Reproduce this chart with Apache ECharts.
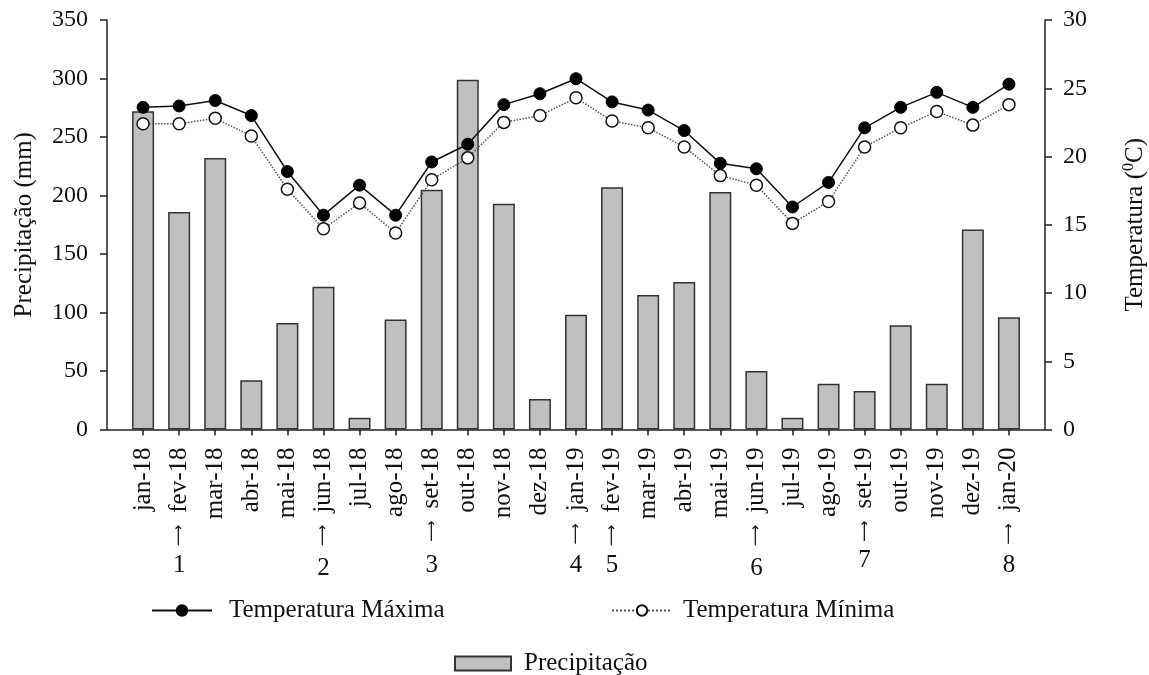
<!DOCTYPE html>
<html><head><meta charset="utf-8">
<script src="https://cdn.jsdelivr.net/npm/echarts@6/dist/echarts.min.js"></script>
<style>html,body{margin:0;padding:0;background:#fff}#c{width:1149px;height:675px}</style>
</head><body><div id="c"></div>
<script>
const categories = ['jan-18','fev-18','mar-18','abr-18','mai-18','jun-18','jul-18','ago-18','set-18','out-18','nov-18','dez-18',
  'jan-19','fev-19','mar-19','abr-19','mai-19','jun-19','jul-19','ago-19','set-19','out-19','nov-19','dez-19','jan-20'];
const precipitation = [272, 186, 232, 42, 91, 122, 10, 94, 205, 299, 193, 26,
  98, 207, 115, 126, 203, 50, 10, 39, 33, 89, 39, 171, 96];
const tempMax = [23.6, 23.7, 24.1, 23.0, 18.9, 15.7, 17.9, 15.7, 19.6, 20.9, 23.8, 24.6,
  25.7, 24.0, 23.4, 21.9, 19.5, 19.1, 16.3, 18.1, 22.1, 23.6, 24.7, 23.6, 25.3];
const tempMin = [22.4, 22.4, 22.8, 21.5, 17.6, 14.7, 16.6, 14.4, 18.3, 19.9, 22.5, 23.0,
  24.3, 22.6, 22.1, 20.7, 18.6, 17.9, 15.1, 16.7, 20.7, 22.1, 23.3, 22.3, 23.8];
const sampleMonths = ['fev-18','jun-18','set-18','jan-19','fev-19','jun-19','set-19','jan-20'];
const precipTicks = {min: 0, max: 350, interval: 50};
const tempTicks = {min: 0, max: 30, interval: 5};

const FONT = '"Liberation Serif", "Times New Roman", serif';
const axisData = [' '].concat(categories).concat(['  ']);
const pad = arr => [null].concat(arr).concat([null]);
const isEnd = i => i === 0 || i === axisData.length - 1;

const chart = echarts.init(document.getElementById('c'), null, {renderer: 'canvas'});
chart.setOption({
  backgroundColor: '#ffffff',
  animation: false,
  textStyle: {fontFamily: FONT, color: '#111'},
  grid: {left: 107, right: 104, top: 20, bottom: 675 - 429.5, containLabel: false, outerBoundsMode: 'none'},
  legend: [
    {data: ['Temperatura Máxima'], left: 146, top: 593, itemWidth: 60, itemHeight: 13,
     textStyle: {fontFamily: FONT, fontSize: 25, color: '#111', padding: [0, 0, 0, 12]}},
    {data: ['Temperatura Mínima'], left: 606, top: 593, itemWidth: 60, itemHeight: 13,
     textStyle: {fontFamily: FONT, fontSize: 25, color: '#111', padding: [0, 0, 0, 6]}},
    {data: [{name: 'Precipitação', icon: 'rect'}], left: 449, top: 646, itemWidth: 56, itemHeight: 14,
     textStyle: {fontFamily: FONT, fontSize: 25, color: '#111', padding: [0, 0, 0, 8]}}
  ],
  xAxis: [
    {
      type: 'category', data: axisData, boundaryGap: false,
      axisLine: {show: true, lineStyle: {color: '#222', width: 1.5}},
      axisTick: {show: true, length: 6, interval: (i) => !isEnd(i), lineStyle: {color: '#222', width: 1.5}},
      axisLabel: {
        interval: 0, rotate: 90, margin: 18, fontFamily: FONT, fontSize: 25, color: '#111',
        formatter: (v) => sampleMonths.indexOf(v) >= 0 ? '{arr|⟶}{gap| }' + v : v,
        rich: {
          arr: {fontFamily: '"DejaVu Sans", sans-serif', fontSize: 15, color: '#111'},
          gap: {fontFamily: FONT, fontSize: 25, width: 12}
        }
      },
      splitLine: {show: false}
    },
    {
      type: 'category', data: axisData, boundaryGap: false, position: 'bottom',
      axisLine: {show: false}, axisTick: {show: false},
      axisLabel: {
        interval: 0, rotate: 0, margin: 118, fontFamily: FONT, fontSize: 25, color: '#111',
        formatter: (v) => {
          const k = sampleMonths.indexOf(v);
          if (k < 0) return '';
          const n = String(k + 1);
          if (n === '7') return '{hi|' + n + '}';
          if (n === '2' || n === '6') return '{lo|' + n + '}';
          return '{mid|' + n + '}';
        },
        rich: {
          hi: {fontFamily: FONT, fontSize: 25, color: '#111', padding: [0, 0, 0, 0]},
          mid: {fontFamily: FONT, fontSize: 25, color: '#111', padding: [5, 0, 0, 0]},
          lo: {fontFamily: FONT, fontSize: 25, color: '#111', padding: [8, 0, 0, 0]}
        }
      },
      splitLine: {show: false}
    }
  ],
  yAxis: [
    {
      type: 'value', position: 'left', min: precipTicks.min, max: precipTicks.max, interval: precipTicks.interval,
      name: 'Precipitação (mm)', nameLocation: 'middle', nameRotate: 90, nameGap: 70,
      nameTextStyle: {fontFamily: FONT, fontSize: 25, color: '#111'},
      axisLine: {show: true, lineStyle: {color: '#222', width: 1.5}},
      axisTick: {show: true, inside: false, length: 7, lineStyle: {color: '#222', width: 1.5}},
      axisLabel: {margin: 19, fontFamily: FONT, fontSize: 24, color: '#111'},
      splitLine: {show: false}
    },
    {
      type: 'value', position: 'right', min: tempTicks.min, max: tempTicks.max, interval: tempTicks.interval,
      name: 'Temperatura ({sup|0}C)', nameLocation: 'middle', nameRotate: 90, nameGap: 76,
      nameTextStyle: {fontFamily: FONT, fontSize: 25, color: '#111',
        rich: {sup: {fontFamily: FONT, fontSize: 16, color: '#111', padding: [0, 0, 12, 0]}}},
      axisLine: {show: true, lineStyle: {color: '#222', width: 1.5}},
      axisTick: {show: true, inside: false, length: 7, lineStyle: {color: '#222', width: 1.5}},
      axisLabel: {margin: 18, fontFamily: FONT, fontSize: 24, color: '#111'},
      splitLine: {show: false}
    }
  ],
  series: [
    {
      name: 'Precipitação', type: 'bar', xAxisIndex: 0, yAxisIndex: 0, data: pad(precipitation),
      barWidth: 22, z: 1,
      itemStyle: {color: '#c0c0c0', borderColor: '#333', borderWidth: 1.5}
    },
    {
      name: 'Temperatura Máxima', type: 'line', xAxisIndex: 0, yAxisIndex: 1, data: pad(tempMax),
      symbol: 'circle', symbolSize: 12, z: 4,
      lineStyle: {color: '#111', width: 1.5, type: 'solid'},
      itemStyle: {color: '#000', borderColor: '#000', borderWidth: 1}
    },
    {
      name: 'Temperatura Mínima', type: 'line', xAxisIndex: 0, yAxisIndex: 1, data: pad(tempMin),
      symbol: 'circle', symbolSize: 12, z: 3,
      lineStyle: {color: '#555', width: 1.5, type: 'dotted'},
      itemStyle: {color: '#fff', borderColor: '#111', borderWidth: 1.5}
    }
  ]
});
</script>
</body></html>
